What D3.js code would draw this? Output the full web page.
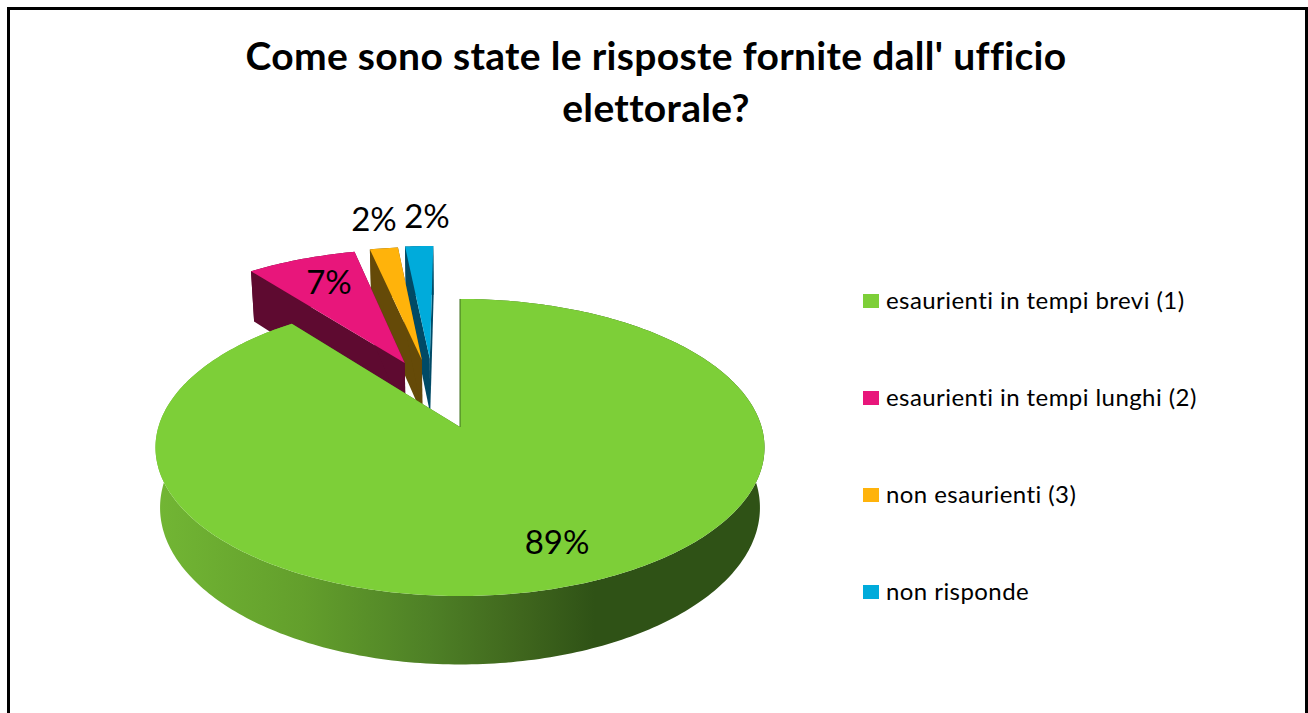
<!DOCTYPE html>
<html>
<head>
<meta charset="utf-8">
<script src="https://cdn.jsdelivr.net/npm/d3@7"></script>
<style>
  html, body { margin: 0; padding: 0; background: #fff; overflow: hidden; }
  text { font-family: Lato, "Open Sans", sans-serif; fill: #000; }
</style>
</head>
<body>
<svg id="chart"></svg>
<script>
// ── Data ──────────────────────────────────────────────────────────────────────
const categories = [
  'esaurienti in tempi brevi (1)',
  'esaurienti in tempi lunghi (2)',
  'non esaurienti (3)',
  'non risponde',
];
const values = [89.4, 7.0, 1.8, 1.8];
const titleLines = ["Come sono state le risposte fornite dall' ufficio", 'elettorale?'];

// ── Style / layout ────────────────────────────────────────────────────────────
const W = 1308, H = 713;
const topColors  = ['#7DCF38', '#E8167B', '#FFB30B', '#00ABDB'];
const wallColors = ['#3F6F1C', '#5E0A30', '#654A08', '#004A66'];

// Fake 3D: pie lies on a plane seen in perspective
const cx = 460, cy = 427, rx = 301.6, ry = 145.7, persp = 0.138, depth = 59;

// Explosion of each slice, in pie-plane units (u to the right, w away from viewer)
const explode = [[0, 0], [-0.195, 0.467], [-0.135, 0.491], [-0.107, 0.5]];

// u, w on the pie plane, z = 0 top face .. 1 bottom face
function project(u, w, z) {
  const den = 1 + persp * w;
  return [
    cx + rx * (u / den) * (1 - 0.015 * z),
    cy - ry * (w / den) + z * depth / den,
  ];
}

const svg = d3.select('#chart').attr('width', W).attr('height', H);
const line = d3.line();

// Rim gradient of the big slice
const grad = svg.append('defs').append('linearGradient')
  .attr('id', 'rim').attr('gradientUnits', 'userSpaceOnUse')
  .attr('x1', 156).attr('x2', 765).attr('y1', 0).attr('y2', 0);
[[0, '#72B634'], [0.24, '#639F2C'], [0.45, '#4E8026'], [0.6, '#3F661D'], [0.72, '#2F5216'], [1, '#2F5216']]
  .forEach(([o, c]) => grad.append('stop').attr('offset', o).attr('stop-color', c));

// ── Slices ────────────────────────────────────────────────────────────────────
const arcs = d3.pie().sort(null).value(d => d)(values);

function rimPoints(d, i, z) {
  const [ou, ow] = explode[i];
  const n = Math.max(4, Math.ceil((d.endAngle - d.startAngle) * 60));
  return d3.range(n + 1).map(k => {
    const a = d.startAngle + (d.endAngle - d.startAngle) * k / n;
    return project(ou + Math.sin(a), ow + Math.cos(a), z);
  });
}
function apex(i, z) { return project(explode[i][0], explode[i][1], z); }

// Painter's order: farthest slice first, big slice last
const pieG = svg.append('g').attr('class', 'pie');
[3, 2, 1, 0].forEach(i => {
  const d = arcs[i];
  const top = rimPoints(d, i, 0), bottom = rimPoints(d, i, 1);
  const g = pieG.append('g').attr('class', `slice-${i}`);

  // outer rim
  g.append('path')
    .attr('d', line(top.concat(bottom.slice().reverse())) + 'Z')
    .attr('fill', i === 0 ? 'url(#rim)' : wallColors[i]);

  // the two cut faces
  [[top[0], bottom[0]], [top[top.length - 1], bottom[bottom.length - 1]]].forEach(([t, b]) => {
    g.append('path')
      .attr('d', line([apex(i, 0), t, b, apex(i, 1)]) + 'Z')
      .attr('fill', wallColors[i]);
  });

  // top face
  g.append('path')
    .attr('d', line([apex(i, 0)].concat(top)) + 'Z')
    .attr('fill', topColors[i]);
});

// thin dark edge where the big slice starts
pieG.append('path')
  .attr('d', line([apex(0, 0), rimPoints(arcs[0], 0, 0)[0]]))
  .attr('fill', 'none').attr('stroke', '#3F6F1C').attr('stroke-width', 1);

// ── Percent labels ────────────────────────────────────────────────────────────
const labelAt = [[557, 554], [329, 294], [374, 231], [427, 228]];
svg.append('g').attr('class', 'labels')
  .selectAll('text')
  .data(values)
  .join('text')
    .attr('x', (d, i) => labelAt[i][0])
    .attr('y', (d, i) => labelAt[i][1])
    .attr('text-anchor', 'middle')
    .attr('font-size', 33)
    .text(d => `${Math.round(d)}%`);

// ── Title ─────────────────────────────────────────────────────────────────────
svg.append('g').attr('class', 'title')
  .selectAll('text')
  .data(titleLines)
  .join('text')
    .attr('x', 656)
    .attr('y', (d, i) => 70 + i * 52)
    .attr('text-anchor', 'middle')
    .attr('font-size', 39)
    .attr('font-weight', 700)
    .attr('letter-spacing', 0.33)
    .text(d => d);

// ── Legend ────────────────────────────────────────────────────────────────────
const legendY = d3.scalePoint().domain(categories).range([301, 592]);
const legend = svg.append('g').attr('class', 'legend')
  .selectAll('g')
  .data(categories)
  .join('g')
    .attr('transform', d => `translate(863,${legendY(d)})`);
legend.append('rect')
  .attr('y', -7).attr('width', 16).attr('height', 14)
  .attr('fill', (d, i) => topColors[i]);
legend.append('text')
  .attr('x', 23).attr('y', 8)
  .attr('font-size', 24)
  .attr('letter-spacing', 0.43)
  .text(d => d);

// ── Frame (open at the bottom, runs off the picture) ──────────────────────────
svg.append('path')
  .attr('d', line([[8.5, H], [8.5, 8.5], [1306.5, 8.5], [1306.5, H]]))
  .attr('fill', 'none').attr('stroke', '#000').attr('stroke-width', 3);
</script>
</body>
</html>
